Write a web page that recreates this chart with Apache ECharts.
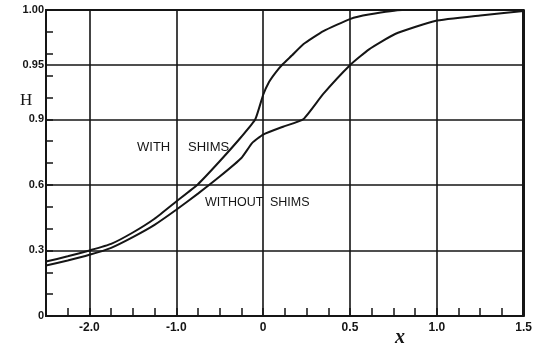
<!DOCTYPE html>
<html>
<head>
<meta charset="utf-8">
<script src="https://cdn.jsdelivr.net/npm/echarts@6/dist/echarts.min.js"></script>
<style>
html,body{margin:0;padding:0;background:#fff;}
#chart{width:535px;height:347px;}
</style>
</head>
<body>
<div id="chart"></div>
<script>
const withX = [-2.5, -2.25, -2.0, -1.75, -1.5, -1.25, -1.0, -0.75, -0.5, -0.25, -0.09, 0.0, 0.034, 0.074, 0.114, 0.165, 0.233, 0.347, 0.5, 0.608, 0.8, 1.0, 1.5];
const withH = [0.249, 0.273, 0.300, 0.330, 0.382, 0.445, 0.524, 0.603, 0.708, 0.820, 0.900, 0.9222, 0.9341, 0.9432, 0.9506, 0.9583, 0.9689, 0.9807, 0.9917, 0.9958, 1.000, 1.000, 1.000];
const withoutX = [-2.5, -2.25, -2.0, -1.75, -1.5, -1.25, -1.0, -0.75, -0.5, -0.25, -0.125, 0.0, 0.115, 0.231, 0.345, 0.5, 0.61, 0.76, 0.99, 1.25, 1.5];
const withoutH = [0.231, 0.254, 0.280, 0.312, 0.361, 0.417, 0.486, 0.560, 0.638, 0.723, 0.792, 0.830, 0.866, 0.900, 0.923, 0.9495, 0.964, 0.978, 0.990, 0.995, 0.999];

const xTickValues = [-2, -1, 0, 0.5, 1.0, 1.5];
const xTickLabels = ['-2.0', '-1.0', '0', '0.5', '1.0', '1.5'];
const yTickValues = [0, 0.3, 0.6, 0.9, 0.95, 1.0];
const yTickLabels = ['0', '0.3', '0.6', '0.9', '0.95', '1.00'];

// piecewise axis scales of the original graph paper
function toV(x) { return x <= 0 ? x : 2 * x; }
function toU(h) { return h <= 0.9 ? h : 0.9 + 5 * (h - 0.9); }
function round(v) { return Math.round(v * 1000) / 1000; }

const xPos = xTickValues.map(v => round(toV(v)));
const yPos = yTickValues.map(v => round(toU(v)));

function lookup(pos, labels, v) {
  for (let i = 0; i < pos.length; i++) if (Math.abs(pos[i] - v) < 1e-6) return labels[i];
  return '';
}

const withData = withX.map((x, i) => [toV(x), toU(withH[i])]);
const withoutData = withoutX.map((x, i) => [toV(x), toU(withoutH[i])]);

const ink = '#151515';
const gridMarks = [];
xPos.forEach(v => { if (v > -2.5 && v < 3) gridMarks.push({ xAxis: v }); });
yPos.forEach(v => { if (v > 0 && v < 1.4) gridMarks.push({ yAxis: v }); });
gridMarks.push({ xAxis: 3, lineStyle: { width: 3, color: ink } });

const chart = echarts.init(document.getElementById('chart'), null, { renderer: 'canvas' });
chart.setOption({
  animation: false,
  backgroundColor: '#fff',
  grid: { left: 46, right: 5, top: 10, bottom: 31, show: true, borderColor: ink, borderWidth: 2 },
  xAxis: {
    type: 'value', min: -2.5, max: 3, interval: 0.25,
    axisLine: { show: true, onZero: false, lineStyle: { color: ink, width: 2 } },
    axisTick: { show: true, inside: true, length: 8, lineStyle: { color: ink, width: 1.5 } },
    axisLabel: {
      customValues: xPos, margin: 6,
      formatter: v => lookup(xPos, xTickLabels, v),
      color: ink, fontFamily: 'Liberation Sans', fontWeight: 'bold', fontSize: 12
    },
    splitLine: { show: false }
  },
  yAxis: {
    type: 'value', min: 0, max: 1.4, interval: 0.1,
    axisLine: { show: true, onZero: false, lineStyle: { color: ink, width: 2 } },
    axisTick: { show: true, inside: true, length: 7, lineStyle: { color: ink, width: 1.5 } },
    axisLabel: {
      customValues: yPos, margin: 2,
      formatter: v => lookup(yPos, yTickLabels, v),
      color: ink, fontFamily: 'Liberation Sans', fontWeight: 'bold', fontSize: 11
    },
    splitLine: { show: false }
  },
  series: [
    {
      name: 'WITH SHIMS', type: 'line', data: withData,
      showSymbol: false, smooth: 0.15,
      lineStyle: { color: ink, width: 2 },
      markLine: {
        silent: true, symbol: 'none', animation: false,
        label: { show: false },
        lineStyle: { color: ink, width: 1.6, type: 'solid' },
        data: gridMarks
      }
    },
    {
      name: 'WITHOUT SHIMS', type: 'line', data: withoutData,
      showSymbol: false, smooth: 0.15,
      lineStyle: { color: ink, width: 2 }
    }
  ],
  graphic: [
    { type: 'text', left: 137, top: 141, style: { text: 'WITH', fontSize: 13, fontFamily: 'Liberation Sans', fill: ink } },
    { type: 'text', left: 188, top: 141, style: { text: 'SHIMS', fontSize: 13, fontFamily: 'Liberation Sans', fill: ink } },
    { type: 'text', left: 205, top: 196, style: { text: 'WITHOUT', fontSize: 12.5, fontFamily: 'Liberation Sans', fill: ink } },
    { type: 'text', left: 270, top: 196, style: { text: 'SHIMS', fontSize: 12.5, fontFamily: 'Liberation Sans', fill: ink } },
    { type: 'text', left: 20, top: 92, style: { text: 'H', fontSize: 17, fontFamily: 'Liberation Serif', fill: ink } },
    { type: 'text', left: 395, top: 328, style: { text: 'x', fontSize: 20, fontStyle: 'italic', fontWeight: 'bold', fontFamily: 'Liberation Serif', fill: ink } }
  ]
});
</script>
</body>
</html>
